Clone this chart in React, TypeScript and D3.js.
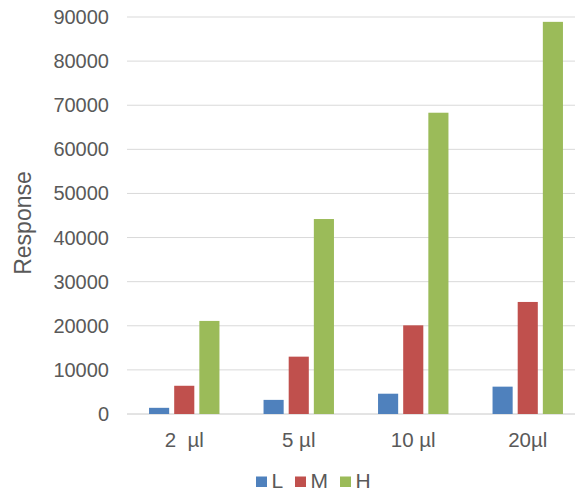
import React from 'react';
import * as d3 from 'd3';

// Chart data
const categories = ['2  µl', '5 µl', '10 µl', '20µl'];
const seriesNames = ['L', 'M', 'H'];
const valuesL = [1400, 3200, 4600, 6200];
const valuesM = [6400, 13000, 20100, 25400];
const valuesH = [21100, 44200, 68300, 88900];
const yTicks = [0, 10000, 20000, 30000, 40000, 50000, 60000, 70000, 80000, 90000];
const colors = ['#4F81BD', '#C0504D', '#9BBB59'];

const width = 575;
const height = 492;
const font = '"Liberation Sans", Arial, sans-serif';
const textColor = '#595959';

const App: React.FC = () => {
    const series = [valuesL, valuesM, valuesH];

    // Scales
    const x0 = d3
        .scaleBand<string>()
        .domain(categories)
        .range([127, 585])
        .paddingInner(0.385)
        .paddingOuter(0.1925);

    const x1 = d3
        .scaleBand<string>()
        .domain(seriesNames)
        .range([0, x0.bandwidth()])
        .paddingInner(0.2);

    const y = d3.scaleLinear().domain([0, 90000]).range([414, 17]);

    const legendX = [256, 295, 340];

    return (
        <svg
            width={width}
            height={height}
            style={{ position: 'absolute', left: 0, top: 0, background: '#fff' }}
            fontFamily={font}
        >
            {/* Gridlines */}
            {yTicks.map((t) => (
                <line
                    key={'g' + t}
                    x1={127}
                    x2={585}
                    y1={y(t)}
                    y2={y(t)}
                    stroke={t === 0 ? '#c8c8c8' : '#d9d9d9'}
                    strokeWidth={1}
                />
            ))}

            {/* Tick labels */}
            {yTicks.map((t) => (
                <text
                    key={'t' + t}
                    x={109}
                    y={y(t)}
                    dy="0.35em"
                    textAnchor="end"
                    fontSize={20}
                    fill={textColor}
                >
                    {t}
                </text>
            ))}

            {/* Bars */}
            {categories.map((c, i) => (
                <g key={c} transform={`translate(${x0(c)},0)`}>
                    {seriesNames.map((s, j) => (
                        <rect
                            key={s}
                            x={x1(s)}
                            y={y(series[j][i])}
                            width={x1.bandwidth()}
                            height={y(0) - y(series[j][i])}
                            fill={colors[j]}
                        />
                    ))}
                </g>
            ))}

            {/* Category labels */}
            {categories.map((c) => (
                <text
                    key={'c' + c}
                    x={(x0(c) ?? 0) + x0.bandwidth() / 2}
                    y={446.5}
                    textAnchor="middle"
                    fontSize={20.5}
                    fill={textColor}
                    style={{ whiteSpace: 'pre' }}
                >
                    {c}
                </text>
            ))}

            {/* Y axis title */}
            <text
                transform="translate(31,223) rotate(-90)"
                textAnchor="middle"
                fontSize={23}
                fill={textColor}
            >
                Response
            </text>

            {/* Legend */}
            {seriesNames.map((s, j) => (
                <g key={'l' + s}>
                    <rect x={legendX[j]} y={476.5} width={11} height={10.5} fill={colors[j]} />
                    <text x={legendX[j] + 15.5} y={488} fontSize={21} fill={textColor}>
                        {s}
                    </text>
                </g>
            ))}
        </svg>
    );
};

export default App;
